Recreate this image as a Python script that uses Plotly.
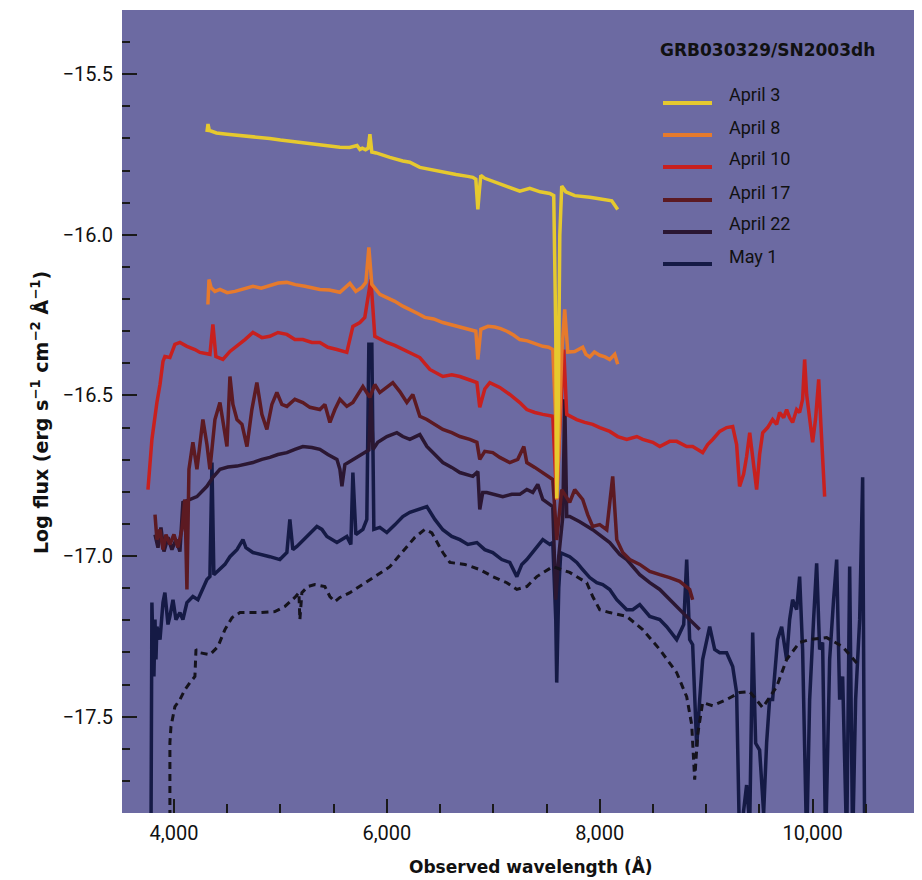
import plotly.graph_objects as go

# ---------------- data (wavelength in Angstrom, log flux) ----------------
apr3_wl = [4310, 4320, 4332, 4400, 4500, 4600, 4714, 4800, 4900, 5000, 5100, 5183, 5300, 5400,
           5559, 5650, 5720, 5747, 5770, 5800, 5825, 5841, 5859, 5900, 5960, 6028, 6150, 6216,
           6310, 6420, 6526, 6650, 6760, 6808, 6836, 6855, 6870, 6883, 6920, 7000, 7061, 7150,
           7249, 7343, 7440, 7531, 7568, 7587, 7596, 7610, 7625, 7643, 7681, 7765, 7840, 7906,
           7980, 8047, 8113, 8169]
apr3_fx = [-15.68, -15.655, -15.675, -15.683, -15.687, -15.690, -15.693, -15.698, -15.700, -15.705,
           -15.709, -15.712, -15.716, -15.722, -15.727, -15.728, -15.722, -15.734, -15.730, -15.735,
           -15.730, -15.687, -15.742, -15.745, -15.752, -15.759, -15.770, -15.774, -15.790, -15.798,
           -15.805, -15.812, -15.818, -15.821, -15.827, -15.921, -15.860, -15.815, -15.824, -15.834,
           -15.843, -15.852, -15.864, -15.855, -15.866, -15.871, -15.878, -16.30, -16.82, -16.55,
           -16.00, -15.848, -15.866, -15.878, -15.880, -15.883, -15.887, -15.890, -15.894, -15.921]

apr8_wl = [4319, 4329, 4350, 4385, 4432, 4500, 4573, 4650, 4742, 4820, 4901, 4980, 5061, 5140,
           5230, 5300, 5371, 5460, 5559, 5653, 5709, 5765, 5803, 5831, 5859, 5934, 6000, 6075,
           6150, 6216, 6290, 6357, 6440, 6526, 6610, 6686, 6760, 6836, 6855, 6883, 6950, 7014,
           7070, 7127, 7190, 7249, 7320, 7390, 7465, 7520, 7559, 7587, 7596, 7615, 7643, 7671,
           7700, 7765, 7840, 7870, 7906, 7950, 8000, 8050, 8094, 8141, 8169]
apr8_fx = [-16.217, -16.139, -16.165, -16.176, -16.170, -16.180, -16.176, -16.168, -16.160, -16.166,
           -16.157, -16.150, -16.148, -16.155, -16.160, -16.165, -16.170, -16.172, -16.179, -16.151,
           -16.176, -16.164, -16.148, -16.039, -16.154, -16.185, -16.195, -16.207, -16.222, -16.232,
           -16.245, -16.257, -16.262, -16.273, -16.280, -16.285, -16.292, -16.300, -16.388, -16.294,
           -16.285, -16.287, -16.292, -16.300, -16.312, -16.326, -16.330, -16.338, -16.347, -16.350,
           -16.357, -16.575, -16.824, -16.668, -16.370, -16.232, -16.365, -16.363, -16.350, -16.372,
           -16.380, -16.365, -16.375, -16.380, -16.388, -16.372, -16.403]

apr10_wl = [3756, 3793, 3840, 3869, 3897, 3915, 3962, 4009, 4056, 4122, 4197, 4244, 4338, 4366,
            4394, 4460, 4526, 4592, 4667, 4742, 4826, 4901, 4977, 5061, 5136, 5211, 5296, 5371,
            5446, 5531, 5624, 5681, 5747, 5793, 5850, 5887, 6000, 6075, 6150, 6235, 6310, 6404,
            6526, 6610, 6686, 6779, 6846, 6873, 6920, 6967, 7061, 7155, 7249, 7315, 7390, 7465,
            7559, 7587, 7596, 7625, 7662, 7690, 7784, 7859, 7934, 8000, 8094, 8169, 8254, 8348,
            8404, 8498, 8564, 8657, 8723, 8817, 8873, 8967, 9014, 9061, 9127, 9192, 9249, 9286,
            9314, 9352, 9380, 9409, 9446, 9474, 9502, 9531, 9577, 9624, 9662, 9690, 9728, 9756,
            9784, 9812, 9850, 9878, 9906, 9925, 9944, 9972, 10000, 10028, 10057, 10075, 10094, 10113]
apr10_fx = [-16.793, -16.637, -16.522, -16.466, -16.394, -16.379, -16.382, -16.341, -16.335, -16.347,
            -16.357, -16.366, -16.372, -16.279, -16.379, -16.388, -16.363, -16.347, -16.326, -16.304,
            -16.320, -16.316, -16.304, -16.310, -16.326, -16.326, -16.335, -16.335, -16.350, -16.357,
            -16.366, -16.285, -16.273, -16.257, -16.139, -16.316, -16.335, -16.344, -16.357, -16.372,
            -16.382, -16.419, -16.441, -16.436, -16.441, -16.452, -16.460, -16.537, -16.480, -16.460,
            -16.475, -16.497, -16.522, -16.544, -16.553, -16.559, -16.565, -16.762, -16.824, -16.600,
            -16.357, -16.559, -16.575, -16.584, -16.590, -16.600, -16.612, -16.628, -16.637, -16.628,
            -16.637, -16.646, -16.659, -16.643, -16.643, -16.659, -16.659, -16.678, -16.653, -16.637,
            -16.612, -16.600, -16.597, -16.653, -16.783, -16.745, -16.690, -16.616, -16.731, -16.793,
            -16.684, -16.616, -16.600, -16.575, -16.590, -16.553, -16.569, -16.544, -16.569, -16.584,
            -16.544, -16.553, -16.512, -16.388, -16.498, -16.565, -16.646, -16.572, -16.450, -16.572,
            -16.699, -16.815]

apr17_wl = [3822, 3840, 3869, 3897, 3925, 3962, 4000, 4037, 4075, 4103, 4122, 4141, 4178, 4216,
            4272, 4310, 4338, 4385, 4432, 4469, 4498, 4526, 4554, 4592, 4639, 4686, 4732, 4779,
            4826, 4873, 4920, 4967, 5014, 5061, 5136, 5211, 5277, 5371, 5418, 5465, 5512, 5559,
            5624, 5681, 5728, 5775, 5840, 5887, 5934, 6000, 6056, 6122, 6188, 6244, 6310, 6376,
            6451, 6526, 6610, 6686, 6779, 6846, 6873, 6920, 6995, 7061, 7155, 7230, 7287, 7315,
            7390, 7465, 7559, 7587, 7596, 7643, 7718, 7765, 7840, 7887, 7934, 8000, 8066, 8122,
            8160, 8216, 8282, 8376, 8470, 8564, 8657, 8751, 8845, 8873]
apr17_fx = [-16.871, -16.949, -16.917, -16.980, -16.933, -16.964, -16.933, -16.973, -16.917, -16.824,
            -17.104, -16.730, -16.646, -16.730, -16.575, -16.653, -16.730, -16.575, -16.522, -16.607,
            -16.659, -16.441, -16.528, -16.575, -16.590, -16.659, -16.544, -16.460, -16.559, -16.606,
            -16.528, -16.491, -16.528, -16.534, -16.512, -16.522, -16.537, -16.544, -16.528, -16.584,
            -16.544, -16.512, -16.534, -16.522, -16.497, -16.472, -16.506, -16.466, -16.491, -16.475,
            -16.460, -16.488, -16.522, -16.497, -16.565, -16.575, -16.590, -16.606, -16.616, -16.628,
            -16.637, -16.646, -16.699, -16.674, -16.678, -16.693, -16.709, -16.699, -16.659, -16.709,
            -16.724, -16.740, -16.762, -16.900, -16.950, -16.793, -16.833, -16.793, -16.824, -16.871,
            -16.908, -16.902, -16.918, -16.752, -16.949, -16.989, -17.011, -17.026, -17.048, -17.058,
            -17.067, -17.079, -17.104, -17.136]

apr22_wl = [3822, 3850, 3878, 3906, 3944, 3981, 4019, 4056, 4084, 4150, 4216, 4310, 4366, 4432,
            4507, 4592, 4667, 4742, 4826, 4901, 4977, 5061, 5136, 5211, 5296, 5371, 5446, 5531,
            5559, 5578, 5606, 5681, 5765, 5831, 5850, 5870, 5915, 6000, 6094, 6150, 6216, 6310,
            6376, 6451, 6526, 6610, 6686, 6808, 6855, 6873, 6901, 6939, 7014, 7089, 7174, 7249,
            7315, 7371, 7418, 7465, 7559, 7587, 7615, 7653, 7671, 7690, 7718, 7812, 7934, 8028,
            8094, 8188, 8254, 8376, 8470, 8564, 8657, 8751, 8845, 8939]
apr22_fx = [-16.933, -16.974, -16.911, -16.986, -16.942, -16.980, -16.949, -16.986, -16.833, -16.824,
            -16.815, -16.783, -16.755, -16.730, -16.723, -16.720, -16.715, -16.709, -16.699, -16.693,
            -16.684, -16.678, -16.668, -16.659, -16.662, -16.668, -16.684, -16.699, -16.730, -16.783,
            -16.715, -16.699, -16.684, -16.670, -16.500, -16.668, -16.646, -16.628, -16.616, -16.628,
            -16.637, -16.622, -16.659, -16.684, -16.709, -16.724, -16.740, -16.752, -16.737, -16.855,
            -16.802, -16.802, -16.808, -16.815, -16.808, -16.808, -16.793, -16.802, -16.777, -16.824,
            -16.846, -17.136, -17.000, -16.877, -16.512, -16.877, -16.877, -16.893, -16.918, -16.942,
            -16.958, -16.995, -17.011, -17.058, -17.083, -17.104, -17.136, -17.167, -17.198, -17.229]

may1_wl = [3784, 3793, 3803, 3812, 3822, 3831, 3840, 3869, 3897, 3915, 3944, 3962, 3991, 4019,
           4056, 4084, 4122, 4178, 4225, 4272, 4310, 4338, 4357, 4375, 4432, 4479, 4526, 4592,
           4648, 4676, 4742, 4826, 4901, 4995, 5061, 5089, 5117, 5155, 5249, 5343, 5390, 5437,
           5531, 5624, 5662, 5681, 5709, 5775, 5812, 5831, 5859, 5878, 5934, 6000, 6075, 6150,
           6216, 6310, 6376, 6451, 6526, 6610, 6686, 6761, 6846, 6920, 6995, 7080, 7155, 7221,
           7268, 7315, 7390, 7465, 7531, 7559, 7587, 7596, 7615, 7634, 7718, 7784, 7840, 7906,
           7972, 8028, 8094, 8160, 8254, 8310, 8376, 8470, 8564, 8629, 8723, 8789, 8817, 8845,
           8873, 8911, 8939, 8967, 9033, 9080, 9127, 9192, 9249, 9286, 9314, 9352, 9380, 9409,
           9437, 9465, 9502, 9540, 9568, 9596, 9624, 9671, 9709, 9756, 9784, 9812, 9850, 9878,
           9906, 9944, 9972, 10009, 10038, 10066, 10094, 10122, 10160, 10197, 10226, 10254, 10282,
           10320, 10348, 10376, 10404, 10442, 10470, 10489]
may1_fx = [-17.90, -17.145, -17.291, -17.375, -17.198, -17.322, -17.220, -17.260, -17.145, -17.114,
           -17.213, -17.188, -17.136, -17.198, -17.176, -17.198, -17.145, -17.126, -17.136, -17.104,
           -17.073, -17.064, -16.709, -17.058, -17.042, -17.026, -17.002, -16.980, -16.949, -16.974,
           -16.989, -16.995, -17.002, -17.011, -16.989, -16.886, -16.980, -16.970, -16.939, -16.908,
           -16.917, -16.939, -16.958, -16.939, -16.964, -16.740, -16.933, -16.917, -16.886, -16.341,
           -16.341, -16.917, -16.911, -16.927, -16.903, -16.877, -16.864, -16.855, -16.846, -16.886,
           -16.918, -16.939, -16.949, -16.964, -16.958, -16.980, -16.989, -17.011, -17.020, -17.064,
           -17.026, -17.011, -16.980, -16.949, -16.964, -16.958, -17.198, -17.394, -17.100, -16.990,
           -17.002, -17.020, -17.042, -17.067, -17.083, -17.089, -17.104, -17.136, -17.167, -17.167,
           -17.151, -17.188, -17.198, -17.220, -17.260, -17.213, -17.011, -17.260, -17.276, -17.593,
           -17.447, -17.322, -17.220, -17.291, -17.301, -17.301, -17.344, -17.425, -17.90, -17.796,
           -17.713, -17.840, -17.238, -17.583, -17.604, -17.800, -17.581, -17.447, -17.447, -17.260,
           -17.220, -17.322, -17.198, -17.136, -17.167, -17.064, -17.291, -17.90, -17.447, -17.198,
           -17.023, -17.291, -17.269, -17.90, -17.322, -17.136, -17.011, -17.447, -17.375, -17.90,
           -17.033, -17.90, -17.447, -17.198, -16.755, -17.90]

model_wl = [3962, 3962, 3972, 3991, 4009, 4056, 4103, 4150, 4197, 4207, 4244, 4338, 4413, 4479,
            4545, 4620, 4808, 4948, 5042, 5136, 5174, 5183, 5202, 5258, 5324, 5418, 5465, 5512,
            5559, 5653, 5747, 5887, 6028, 6169, 6263, 6357, 6423, 6526, 6592, 6733, 6873, 6995,
            7127, 7221, 7315, 7409, 7559, 7718, 7878, 7934, 8000, 8094, 8254, 8404, 8564, 8723,
            8817, 8864, 8892, 8920, 8967, 9061, 9192, 9314, 9409, 9531, 9662, 9756, 9878, 9972,
            10132, 10282, 10442]
model_fx = [-17.85, -17.581, -17.531, -17.500, -17.469, -17.447, -17.416, -17.394, -17.375, -17.291,
            -17.301, -17.307, -17.282, -17.229, -17.192, -17.176, -17.176, -17.173, -17.157, -17.129,
            -17.114, -17.198, -17.114, -17.095, -17.089, -17.095, -17.126, -17.142, -17.129, -17.114,
            -17.095, -17.064, -17.033, -16.980, -16.942, -16.917, -16.928, -16.989, -17.020, -17.026,
            -17.042, -17.064, -17.083, -17.104, -17.095, -17.064, -17.033, -17.051, -17.083, -17.126,
            -17.167, -17.176, -17.188, -17.229, -17.291, -17.363, -17.438, -17.525, -17.696, -17.556,
            -17.456, -17.466, -17.447, -17.425, -17.422, -17.472, -17.407, -17.322, -17.269, -17.260,
            -17.254, -17.282, -17.344]

series_names = ["April 3", "April 8", "April 10", "April 17", "April 22", "May 1"]
series_wl = [apr3_wl, apr8_wl, apr10_wl, apr17_wl, apr22_wl, may1_wl]
series_fx = [apr3_fx, apr8_fx, apr10_fx, apr17_fx, apr22_fx, may1_fx]
series_colors = ["#e6c92e", "#e67a2c", "#c8201e", "#5c1a22", "#2b1732", "#151a45"]

x_ticks = [4000, 6000, 8000, 10000]
x_ticklabels = ["4,000", "6,000", "8,000", "10,000"]
y_ticks = [-15.5, -16.0, -16.5, -17.0, -17.5]
y_ticklabels = ["\u221215.5", "\u221216.0", "\u221216.5", "\u221217.0", "\u221217.5"]

# ---------------- figure ----------------
OFF = 8                      # page body margin of the browser
W, H = 922 - OFF, 880 - OFF
# plot area in screenshot pixels: x 122..918, y 10..813
L, T = 122 - OFF, 10 - OFF
R = W - (918 - OFF)
B = H - (813 - OFF)
PW, PH = W - L - R, H - T - B


def px(x):
    """screenshot pixel x -> paper coordinate"""
    return (x - OFF - L) / PW


def py(y):
    """screenshot pixel y -> paper coordinate"""
    return (H - B - (y - OFF)) / PH


FONT = "Roboto, sans-serif"
BOLD = "DejaVu Sans, sans-serif"
fig = go.Figure()

# draw darker series first so the bright ones sit on top
for i in [5, 4, 3, 2, 1, 0]:
    fig.add_trace(go.Scatter(x=series_wl[i], y=series_fx[i], mode="lines", name=series_names[i],
                             line=dict(color=series_colors[i], width=3.5), showlegend=False,
                             hoverinfo="skip"))
fig.add_trace(go.Scatter(x=model_wl, y=model_fx, mode="lines", name="model",
                         line=dict(color="#15131c", width=3, dash="7px,5px"), showlegend=False,
                         hoverinfo="skip"))

# manual legend
line_y = [103, 135, 167, 200, 232, 264]
for i, name in enumerate(series_names):
    fig.add_shape(type="line", xref="paper", yref="paper", x0=px(663), x1=px(712),
                  y0=py(line_y[i]), y1=py(line_y[i]),
                  line=dict(color=series_colors[i], width=4))
    fig.add_annotation(xref="paper", yref="paper", x=px(727), y=py(line_y[i] - 8), text=name,
                       showarrow=False, xanchor="left", yanchor="middle",
                       font=dict(family=FONT, size=18, color="#111111"))

fig.add_annotation(xref="paper", yref="paper", x=px(767), y=py(50), text="<b>GRB030329/SN2003dh</b>",
                   showarrow=False, xanchor="center", yanchor="middle",
                   font=dict(family=BOLD, size=17, color="#111111"))

# axis titles
fig.add_annotation(xref="paper", yref="paper", x=px(531), y=py(866),
                   text="<b>Observed wavelength (\u00c5)</b>", showarrow=False,
                   xanchor="center", yanchor="middle",
                   font=dict(family=BOLD, size=17, color="#111111"))
fig.add_annotation(xref="paper", yref="paper", x=px(40), y=py(413),
                   text="<b>Log flux (erg s<sup>\u22121</sup> cm<sup>\u22122</sup> \u00c5<sup>\u22121</sup>)</b>",
                   showarrow=False, textangle=-90, xanchor="center", yanchor="middle",
                   font=dict(family=BOLD, size=19, color="#111111"))

fig.update_layout(
    width=W, height=H,
    margin=dict(l=L, r=R, t=T, b=B),
    paper_bgcolor="white",
    plot_bgcolor="#6c6aa2",
    showlegend=False,
    xaxis=dict(range=[3512, 10990], tickvals=x_ticks, ticktext=x_ticklabels,
               ticks="inside", ticklen=14, tickwidth=1.5, tickcolor="#1a1a1a",
               showgrid=False, zeroline=False, showline=False,
               ticklabelstandoff=6,
               tickfont=dict(family=FONT, size=20, color="#111111"),
               minor=dict(dtick=500, tick0=3500, ticks="inside", ticklen=9, tickwidth=1.5,
                          tickcolor="#1a1a1a", showgrid=False)),
    yaxis=dict(range=[-17.8, -15.3], tickvals=y_ticks, ticktext=y_ticklabels,
               ticks="inside", ticklen=15, tickwidth=1.5, tickcolor="#1a1a1a",
               showgrid=False, zeroline=False, showline=False,
               ticklabelstandoff=8,
               tickfont=dict(family=FONT, size=20, color="#111111"),
               minor=dict(dtick=0.1, tick0=-15.5, ticks="inside", ticklen=8, tickwidth=1.5,
                          tickcolor="#1a1a1a", showgrid=False)),
)

fig.write_html("out.html")
